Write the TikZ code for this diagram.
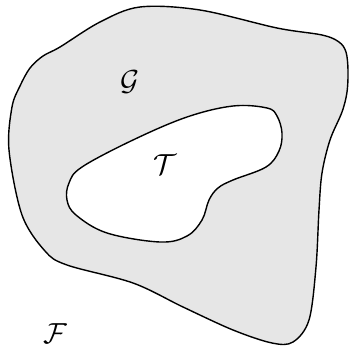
\documentclass[tikz,border=0pt]{standalone}
\usepackage{xcolor}
\usepackage{tikz}
\definecolor{regiongray}{RGB}{230,230,230}
\begin{document}
\begin{tikzpicture}[x=1pt,y=-1pt]
\useasboundingbox (0,0) rectangle (349,351);
% outer region G
\draw [line width=1.4pt, fill=regiongray, join=round]
   plot[smooth cycle, tension=0.55] coordinates {
   (60,47) (100,22) (140,7) (200,10) (277,28) (322,35) (339,42) (346,52)
   (348,70) (347,92) (342,112) (330,140) (322,173) (319,210) (316,267)
   (309,320) (293,342) (272,343) (233,330) (183,307) (133,283) (67,265)
   (45,251) (22,215) (9,150) (12,107) (20,86) (30,68) (43,56)};
% inner region T
\draw [line width=1.4pt, fill=white, join=round]
   plot[smooth cycle, tension=0.6] coordinates {
   (267,108) (233,106) (187,117) (133,140) (82,167) (69,183) (67,200)
   (76,215) (107,233) (160,242) (187,236) (202,220) (209,200) (218,188)
   (233,180) (266,167) (279,151) (282,133) (277,116)};
\node (labelG) at (130,82) {\scalebox{2.9}{$\mathcal{G}$}};
\node (labelT) at (165,165) {\scalebox{2.9}{$\mathcal{T}$}};
\node (labelF) at (55,334) {\scalebox{2.9}{$\mathcal{F}$}};
\end{tikzpicture}
\end{document}
